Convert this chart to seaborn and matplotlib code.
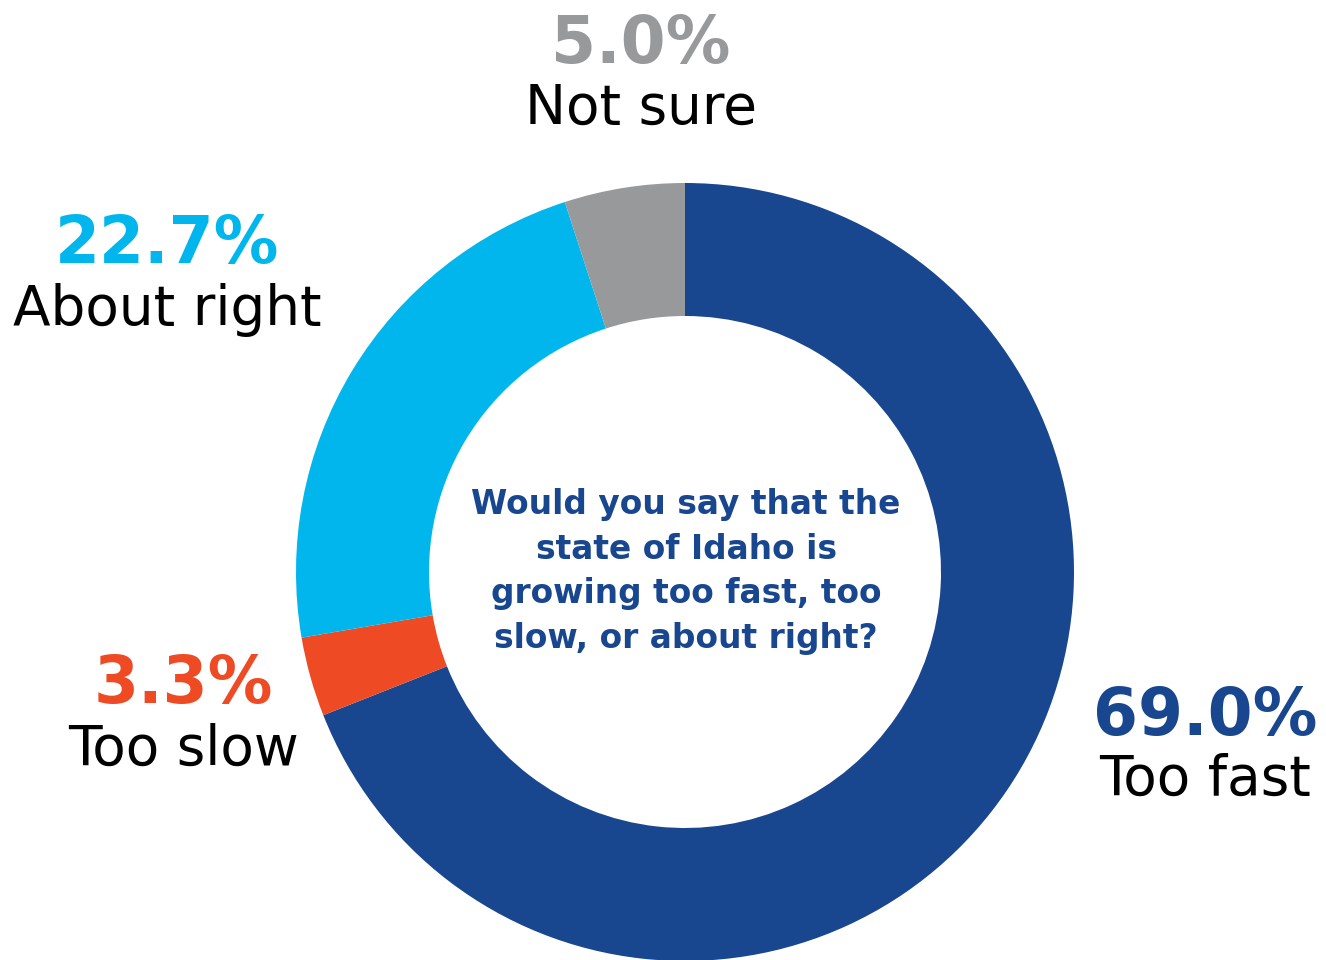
import numpy as np
import matplotlib
matplotlib.use("Agg")
import matplotlib.pyplot as plt
import seaborn as sns

# data, clockwise from 12 o'clock
categories = ["Too fast", "Too slow", "About right", "Not sure"]
shares = [69.0, 3.3, 22.7, 5.0]
colors = ["#18468F", "#EE4B24", "#00B6ED", "#98999B"]

sns.set_theme(style="white")
plt.rcParams['font.family'] = ['DejaVu Sans']

W, H = 1326, 960
fig = plt.figure(figsize=(W / 100, H / 100), dpi=100)
fig.patch.set_facecolor('white')

# donut: centre (685, 572) px, outer radius 389 px, inner 256 px
cx, cy, r_out, r_in = 685, 572, 389, 256
ax = fig.add_axes([(cx - r_out) / W, (H - cy - r_out) / H, 2 * r_out / W, 2 * r_out / H])
ax.pie(shares, colors=colors, startangle=90, counterclock=False, radius=1.0,
       wedgeprops=dict(width=1 - r_in / r_out, edgecolor='none', linewidth=0))
ax.set_xlim(-1, 1); ax.set_ylim(-1, 1)
ax.set_aspect('auto')
ax.axis('off')

def px(x, y):
    return x / W, 1 - y / H

# value + name labels: (centre x, value baseline, name baseline)
pos = {"Not sure": (641, 63, 124), "About right": (167, 263, 325),
       "Too slow": (183, 703, 765), "Too fast": (1205, 735, 795)}
for cat, val, col in zip(categories, shares, colors):
    x, yv, yn = pos[cat]
    fig.text(*px(x, yv), f"{val:.1f}%", ha='center', va='baseline',
             fontsize=46.5, fontweight='bold', color=col)
    fig.text(*px(x, yn), cat, ha='center', va='baseline',
             fontsize=39.5, color='black')

question = ["Would you say that the", "state of Idaho is",
            "growing too fast, too", "slow, or about right?"]
for i, line in enumerate(question):
    fig.text(*px(686, 514 + i * 44.7), line, ha='center', va='baseline',
             fontsize=23.7, fontweight='bold', color="#18468F")

fig.savefig("out.png", dpi=100, facecolor='white')
